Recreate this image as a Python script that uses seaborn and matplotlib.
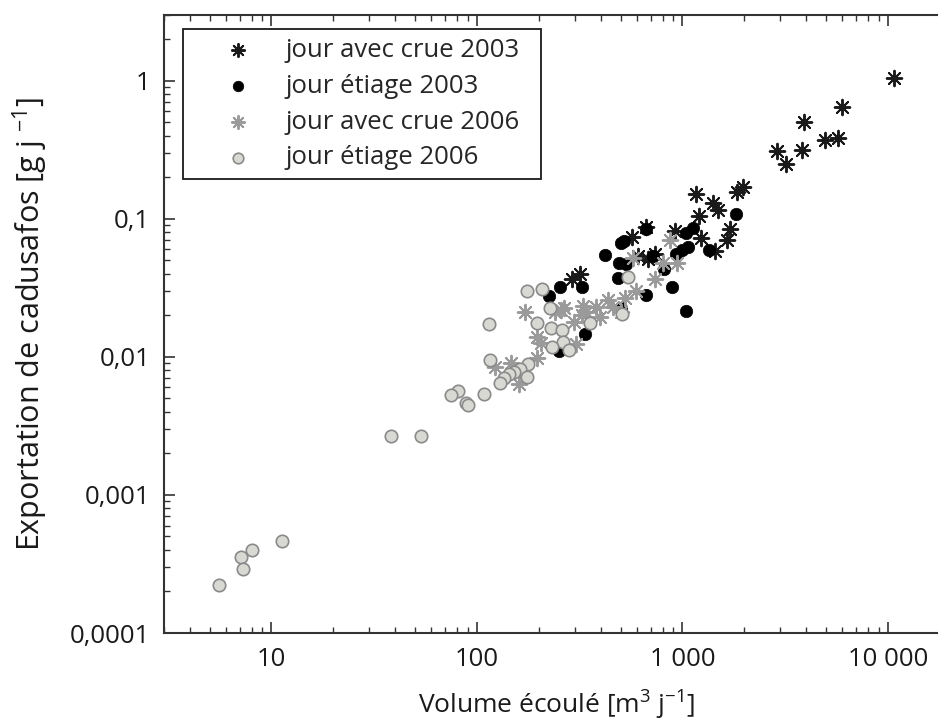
import matplotlib
matplotlib.use("Agg")
import matplotlib.pyplot as plt
import matplotlib.ticker as mticker
import seaborn as sns

# ---- data ----
crue2003_x = [10700, 6000, 3900, 5700, 4950, 2870, 3830, 3200, 1970, 1850, 1170, 1410, 1490,
              1210, 1700, 1230, 1650, 1440, 925, 668, 570, 608, 733, 680, 316, 291]
crue2003_y = [1.05, 0.645, 0.50, 0.387, 0.37, 0.31, 0.313, 0.248, 0.169, 0.157, 0.150, 0.130, 0.116,
              0.104, 0.085, 0.072, 0.070, 0.058, 0.082, 0.087, 0.074, 0.054, 0.056, 0.051, 0.040, 0.0365]

etiage2003_x = [1820, 662, 1130, 1045, 518, 504, 422, 491, 533, 719, 1065, 990, 935, 1350, 813,
                485, 890, 662, 1035, 324, 254, 223, 504, 334, 252]
etiage2003_y = [0.108, 0.084, 0.086, 0.0785, 0.069, 0.0665, 0.055, 0.048, 0.047, 0.054, 0.062, 0.059,
                0.056, 0.059, 0.043, 0.037, 0.032, 0.028, 0.0216, 0.032, 0.032, 0.0276, 0.0225,
                0.0147, 0.011]

crue2006_x = [867, 574, 804, 946, 733, 597, 523, 434, 459, 504, 381, 395, 328, 340, 324, 298, 265,
              257, 239, 172, 196, 205, 304, 197, 147, 123, 160]
crue2006_y = [0.070, 0.052, 0.048, 0.048, 0.0365, 0.030, 0.0266, 0.0258, 0.023, 0.0212, 0.023,
              0.0195, 0.0234, 0.021, 0.020, 0.018, 0.0225, 0.022, 0.0212, 0.021, 0.014, 0.0125,
              0.0124, 0.0098, 0.009, 0.0085, 0.0064]

etiage2006_x = [543, 175, 207, 226, 508, 353, 114, 197, 230, 260, 262, 233, 282, 116, 177, 162, 152,
                144, 136, 129, 175, 108, 81, 75, 88, 90, 38, 53.4, 5.56, 7.1, 7.3, 8.0, 11.2]
etiage2006_y = [0.038, 0.030, 0.031, 0.0227, 0.0205, 0.0175, 0.0172, 0.0177, 0.0163, 0.0157, 0.0129,
                0.0117, 0.0112, 0.0095, 0.0089, 0.0081, 0.0078, 0.0075, 0.0070, 0.0065, 0.0071,
                0.0054, 0.0057, 0.0053, 0.0046, 0.0045, 0.00267, 0.00267, 0.000223, 0.000357,
                0.00029, 0.0004, 0.00046]

series_labels = ["jour avec crue 2003", "jour étiage 2003", "jour avec crue 2006", "jour étiage 2006"]

x_ticks = [10, 100, 1000, 10000]
x_ticklabels = ["10", "100", "1 000", "10 000"]
y_ticks = [0.0001, 0.001, 0.01, 0.1, 1]
y_ticklabels = ["0,0001", "0,001", "0,01", "0,1", "1"]

# ---- style ----
sns.set_style("white")
plt.rcParams["font.family"] = ["Open Sans", "DejaVu Sans"]
plt.rcParams["mathtext.fontset"] = "custom"
plt.rcParams["mathtext.rm"] = "Open Sans"
plt.rcParams["mathtext.default"] = "regular"
plt.rcParams["xtick.bottom"] = True
plt.rcParams["xtick.top"] = True
plt.rcParams["ytick.left"] = True
plt.rcParams["ytick.right"] = True
plt.rcParams["xtick.direction"] = "in"
plt.rcParams["ytick.direction"] = "in"
plt.rcParams["xtick.minor.visible"] = True
plt.rcParams["ytick.minor.visible"] = True

fig = plt.figure(figsize=(9.38, 7.24), dpi=100)
W, H = 938.0, 724.0
left, right, top, bottom = 164.0, 949.8, 14.8, 633.0
ax = fig.add_axes([left / W, (H - bottom) / H, (right - left) / W, (bottom - top) / H])

star = (8, 2, 0)
sns.scatterplot(x=crue2003_x, y=crue2003_y, ax=ax, marker=star, s=125, color="#1a1a1a",
                linewidth=1.4, label=series_labels[0], zorder=3)
sns.scatterplot(x=etiage2003_x, y=etiage2003_y, ax=ax, marker="o", s=80, color="black",
                edgecolor="black", linewidth=0.5, label=series_labels[1], zorder=3)
sns.scatterplot(x=crue2006_x, y=crue2006_y, ax=ax, marker=star, s=125, color="#9a9a9a",
                linewidth=1.4, label=series_labels[2], zorder=4)
sns.scatterplot(x=etiage2006_x, y=etiage2006_y, ax=ax, marker="o", s=80, color="#d9d9d4",
                edgecolor="#8a8a8a", linewidth=1.2, label=series_labels[3], zorder=4)

ax.set_xscale("log")
ax.set_yscale("log")
ax.set_xlim(3, 20000)
ax.set_ylim(0.0001, 3)

ax.xaxis.set_major_locator(mticker.FixedLocator(x_ticks))
ax.xaxis.set_major_formatter(mticker.FixedFormatter(x_ticklabels))
ax.yaxis.set_major_locator(mticker.FixedLocator(y_ticks))
ax.yaxis.set_major_formatter(mticker.FixedFormatter(y_ticklabels))
ax.xaxis.set_minor_locator(mticker.LogLocator(base=10, subs=range(2, 10), numticks=20))
ax.yaxis.set_minor_locator(mticker.LogLocator(base=10, subs=range(2, 10), numticks=20))
ax.xaxis.set_minor_formatter(mticker.NullFormatter())
ax.yaxis.set_minor_formatter(mticker.NullFormatter())

ax.xaxis.set_ticks_position("both")
ax.yaxis.set_ticks_position("both")
ax.tick_params(which="both", direction="in", colors="#333333", labelcolor="#1a1a1a",
               labelsize=18.5)
ax.tick_params(which="major", length=8, width=1.2, pad=10)
ax.tick_params(which="minor", length=4, width=1.0)

for sp in ax.spines.values():
    sp.set_color("#333333")
    sp.set_linewidth(1.5)
    sp.set_zorder(5)

ax.set_xlabel("Volume écoulé [m$^{3}$ j$^{-1}$]", fontsize=19, color="#1a1a1a", labelpad=12)
ax.set_ylabel("Exportation de cadusafos [g j $^{-1}$]", fontsize=22, color="#1a1a1a", labelpad=14)

# legend box: left 183 px, top 29 px, width 358 px (in a 938x724 figure)
ax_w, ax_h = right - left, bottom - top
leg_x0 = (183 - left) / ax_w
leg_top = (bottom - 29) / ax_h
leg_w = 358 / ax_w
leg = ax.legend(loc="upper left", bbox_to_anchor=(leg_x0, leg_top - 0.3, leg_w, 0.3),
                mode="expand", borderaxespad=0,
                fontsize=18.5, frameon=True, fancybox=False, edgecolor="#1a1a1a",
                labelspacing=0.42, handletextpad=0.05, borderpad=0.35, markerscale=0.85,
                handlelength=3.6)
leg.get_frame().set_linewidth(1.3)
leg.get_frame().set_facecolor("white")
leg.get_frame().set_alpha(1)

fig.savefig("out.png", dpi=100)
